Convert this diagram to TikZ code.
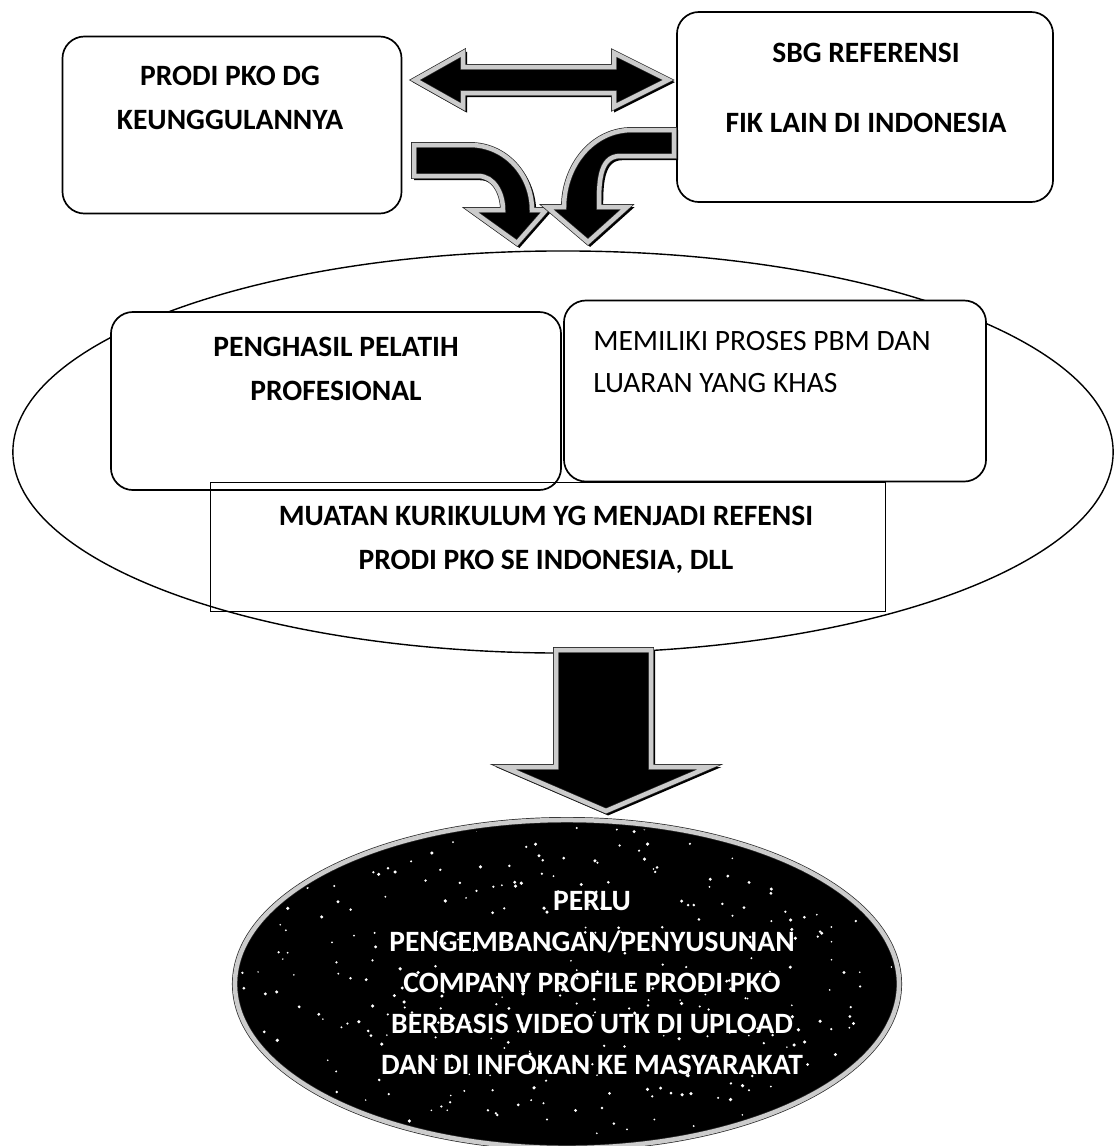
\documentclass[tikz,border=0pt]{standalone}
\usepackage{fontspec}
\setmainfont{Carlito}
\usetikzlibrary{shapes.geometric}

\tikzset{
  kotak/.style={draw, line width=1.2pt, rounded corners=0.55cm, fill=white, inner sep=0pt},
  teks/.style={align=center, inner sep=0pt, font=\fontsize{21}{31}\selectfont\bfseries},
  panah/.style={fill=black, draw=black!85, line width=0.5pt, double=gray!40, double distance=3.2pt,
    preaction={draw=black, fill=black, line width=3pt, transform canvas={xshift=1.5pt, yshift=-1.5pt}}},
  wadah/.style={ellipse, draw, line width=1pt, inner sep=0pt, minimum width=27.5cm, minimum height=10.05cm},
  hasil/.style={ellipse, fill=black, draw=black!85, line width=0.5pt, double=gray!40, double distance=3.2pt,
    inner sep=0pt, minimum width=16.6cm, minimum height=8.2cm}
}

\begin{document}
\begin{tikzpicture}[x=0.025cm, y=-0.025cm]
\useasboundingbox (0,0) rectangle (1119,1146);
\def\panahdua{(415,80) -- (463,53) -- (463,67) -- (614,67) -- (614,53) -- (668,80) -- (614,107) -- (614,93) -- (463,93) -- (463,107) -- cycle}
\def\panahkiri{(414,145) -- (470,145) to[out=0,in=90] (532,210) -- (546,210) -- (517,243) -- (471,210) -- (503,210) to[out=90,in=0] (478,176) -- (414,176) -- cycle}
\def\panahkanan{(674,130) -- (632,130) to[out=180,in=90] (564,207) -- (547,207) -- (588,242) -- (627,207) -- (599,207) to[out=90,in=180] (620,156) -- (674,156) -- cycle}
\def\panahturun{(556,650) -- (651,650) -- (651,767) -- (709,767) -- (606,811) -- (504,767) -- (556,767) -- cycle}

% the big ellipse with its three boxes
\node[wadah] (wadah) at (563,452) {};
\node[kotak, minimum width=11.25cm, minimum height=4.45cm] (pelatih) at (336,401) {};
\node[kotak, minimum width=10.55cm, minimum height=4.525cm] (proses) at (775,391) {};
\node[draw, line width=1.2pt, minimum width=16.875cm, minimum height=3.225cm] (muatan) at (548,547) {};
\node[teks] (pelatihtx) at (336,369) {PENGHASIL PELATIH\\PROFESIONAL};
\node[teks, align=left, anchor=west, font=\fontsize{21}{30}\selectfont] (prosestx) at (593,362) {MEMILIKI PROSES PBM DAN\\LUARAN YANG KHAS};
\node[teks] (muatantx) at (546,540) {MUATAN KURIKULUM YG MENJADI REFENSI\\PRODI PKO SE INDONESIA, DLL};

% top boxes
\node[kotak, minimum width=8.475cm, minimum height=4.425cm] (prodi) at (232,125) {};
\node[kotak, minimum width=9.4cm, minimum height=4.75cm] (ref) at (865,107) {};
\node[teks] (proditx) at (230,98) {PRODI PKO DG\\KEUNGGULANNYA};
\node[teks] (reftx) at (866,88) {SBG REFERENSI\\[19pt]FIK LAIN DI INDONESIA};

% block arrows
\path[panah] \panahdua;
\path[panah] \panahkiri;
\path[panah] \panahkanan;
\path[panah] \panahturun;

% result
\node[hasil] (hasil) at (567,984) {};
\begin{scope} %speckles on the black ellipse
\clip (567,984) ellipse [x radius=327, y radius=159];
\pgfmathsetseed{11}
\foreach \i in {1,...,420}{
  \pgfmathsetmacro\r{0.6+0.7*rnd}
  \fill[white] ({235+665*rnd},{820+328*rnd}) circle (\r pt);
}
\end{scope}
\node[teks, text=white, font=\fontsize{21}{29.2}\selectfont\bfseries] (hasiltx) at (592,983)
  {PERLU\\PENGEMBANGAN/PENYUSUNAN\\COMPANY PROFILE PRODI PKO\\BERBASIS VIDEO UTK DI UPLOAD\\DAN DI INFOKAN KE MASYARAKAT};
\end{tikzpicture}
\end{document}
